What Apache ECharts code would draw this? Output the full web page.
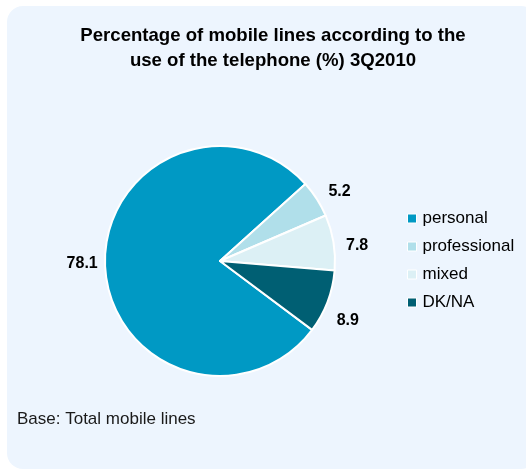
<!DOCTYPE html>
<html><head><meta charset="utf-8">
<script src="https://cdn.jsdelivr.net/npm/echarts@6/dist/echarts.min.js"></script>
<style>html,body{margin:0;padding:0;background:#fff}#c{width:526px;height:471px}</style>
</head><body><div id="c"></div>
<script>
const categories = ['personal', 'professional', 'mixed', 'DK/NA'];
const values = [78.1, 5.2, 7.8, 8.9];
const colors = ['#0099C4', '#B0DFEA', '#DCF0F5', '#005F73'];
const titleText = 'Percentage of mobile lines according to the\nuse of the telephone (%) 3Q2010';
const footText = 'Base: Total mobile lines';

// small label nudges (style only)
const labelNudge = [[4, -4], [0, 7], [-3, 7], [-5, 9]];

const data = categories.map((n, i) => ({ name: n, value: values[i], itemStyle: { color: colors[i] } }));
const chart = echarts.init(document.getElementById('c'), null, { renderer: 'canvas' });
const font = 'Arial, "Liberation Sans", sans-serif';
chart.setOption({
  animation: false,
  graphic: [{
    type: 'rect', z: -10, silent: true,
    shape: { x: 7, y: 6, width: 530, height: 463, r: 16 },
    style: { fill: '#EDF5FE' }
  }, {
    type: 'text', left: 17, top: 411,
    style: { text: footText, font: '17px ' + font, fill: '#1a1a1a' }
  }],
  title: {
    text: titleText, left: 268, top: 18, textAlign: 'center',
    textStyle: { fontFamily: font, fontSize: 18.6, fontWeight: 'bold', color: '#000', lineHeight: 25 }
  },
  legend: {
    orient: 'vertical', left: 402, top: 205, itemGap: 11,
    itemWidth: 9, itemHeight: 9, icon: 'rect',
    itemStyle: { borderColor: '#fff', borderWidth: 1 },
    textStyle: { fontFamily: font, fontSize: 17, lineHeight: 17, color: '#000', padding: [0, 0, 0, 1] },
    data: categories
  },
  series: [{
    type: 'pie', center: [220, 261], radius: 115,
    startAngle: 323.2, clockwise: true,
    itemStyle: { borderColor: '#fff', borderWidth: 2 },
    label: { show: false }, labelLine: { show: false },
    data: data
  }, {
    type: 'pie', center: [220, 261], radius: [116, 162],
    startAngle: 323.2, clockwise: true, silent: true,
    itemStyle: { color: 'rgba(0,0,0,0)', borderWidth: 0 },
    label: { show: true, position: 'inside', formatter: p => p.value.toFixed(1),
      fontFamily: font, fontSize: 16, fontWeight: 'bold', color: '#000' },
    labelLine: { show: false },
    data: categories.map((n, i) => ({ name: n, value: values[i], label: { offset: labelNudge[i] } })),
    legendHoverLink: false
  }]
});
</script></body></html>
